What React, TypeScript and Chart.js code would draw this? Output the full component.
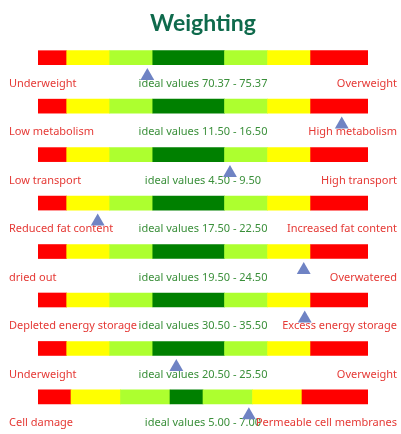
import { useEffect, useRef } from 'react';
import { Chart, registerables } from 'chart.js';

Chart.register(...registerables);

const leftLabels = [
  'Underweight',
  'Low metabolism',
  'Low transport',
  'Reduced fat content',
  'dried out',
  'Depleted energy storage',
  'Underweight',
  'Cell damage',
];
const rightLabels = [
  'Overweight',
  'High metabolism',
  'High transport',
  'Increased fat content',
  'Overwatered',
  'Excess energy storage',
  'Overweight',
  'Permeable cell membranes',
];
const idealLow = [70.37, 11.5, 4.5, 17.5, 19.5, 30.5, 20.5, 5.0];
const idealHigh = [75.37, 16.5, 9.5, 22.5, 24.5, 35.5, 25.5, 7.0];
const markerValues = [69.99, 24.67, 9.88, 13.66, 30.02, 41.09, 22.14, 9.78];
// zone widths (in value units) below and above the ideal range: red, yellow, light green
const zonesBelow = [2, 3, 3];
const zonesAbove = [3, 3, 4];
const zoneColors = ['#ff0000', '#ffff00', '#adff2f', '#008000', '#adff2f', '#ffff00', '#ff0000'];

const LABEL_FONT = '11px "Noto Sans"';

function rowSegments(i: number): [number, number][] {
  const bounds: number[] = [];
  let start = idealLow[i] - zonesBelow.reduce((a, b) => a + b, 0);
  bounds.push(start);
  for (const w of zonesBelow) {
    start += w;
    bounds.push(start);
  }
  let v = idealHigh[i];
  bounds[bounds.length - 1] = idealLow[i];
  bounds.push(v);
  for (const w of zonesAbove) {
    v += w;
    bounds.push(v);
  }
  const segs: [number, number][] = [];
  for (let k = 0; k < bounds.length - 1; k++) segs.push([bounds[k], bounds[k + 1]]);
  return segs;
}

const labelPlugin = {
  id: 'rowLabels',
  beforeDatasetsDraw(chart: any) {
    const { ctx, chartArea, scales } = chart;
    const yScale = scales.y;
    ctx.save();
    ctx.font = LABEL_FONT;
    ctx.textBaseline = 'middle';
    for (let i = 0; i < leftLabels.length; i++) {
      const y = yScale.getPixelForValue(i + 0.54);
      ctx.fillStyle = '#e53935';
      ctx.textAlign = 'left';
      ctx.fillText(leftLabels[i], chartArea.left - 29, y);
      ctx.fillStyle = '#3a8f3a';
      ctx.textAlign = 'center';
      ctx.fillText(
        `ideal values ${idealLow[i].toFixed(2)} - ${idealHigh[i].toFixed(2)}`,
        (chartArea.left + chartArea.right) / 2,
        y
      );
      ctx.fillStyle = '#e53935';
      ctx.textAlign = 'right';
      ctx.fillText(rightLabels[i], chartArea.right + 29, y);
    }
    ctx.restore();
  },
};

export default function App() {
  const canvasRef = useRef<HTMLCanvasElement | null>(null);

  useEffect(() => {
    if (!canvasRef.current) return;
    const datasets: any[] = [];
    const scales: any = {
      y: {
        type: 'linear',
        reverse: true,
        min: -0.2,
        max: 7.6,
        display: false,
        offset: false,
        beginAtZero: false,
        grace: 0,
      },
    };
    for (let i = 0; i < leftLabels.length; i++) {
      const segs = rowSegments(i);
      scales['x' + i] = {
        type: 'linear',
        axis: 'x',
        display: false,
        offset: false,
        beginAtZero: false,
        grace: 0,
        min: segs[0][0],
        max: segs[segs.length - 1][1],
      };
      datasets.push({
        type: 'bar',
        indexAxis: 'y',
        xAxisID: 'x' + i,
        yAxisID: 'y',
        data: segs.map((s) => ({ x: s, y: i })),
        backgroundColor: zoneColors,
        borderWidth: 0,
        borderSkipped: false,
        barThickness: 14,
        grouped: false,
      });
    }
    for (let i = 0; i < leftLabels.length; i++) {
      datasets.push({
        type: 'scatter',
        xAxisID: 'x' + i,
        yAxisID: 'y',
        data: [{ x: markerValues[i], y: i + 0.38 }],
        pointStyle: 'triangle',
        pointRadius: 8,
        pointHoverRadius: 8,
        backgroundColor: '#6f83c4',
        borderWidth: 0,
      });
    }
    const chart = new Chart(canvasRef.current, {
      type: 'scatter',
      data: { datasets },
      options: {
        responsive: false,
        animation: false,
        layout: { padding: { left: 38, right: 33, top: 0, bottom: 3 } },
        scales,
        plugins: {
          legend: { display: false },
          tooltip: { enabled: false },
          title: {
            display: true,
            text: 'Weighting',
            color: '#0f6a4c',
            font: { family: 'Lato', size: 23, weight: 'bold' },
            padding: { top: 10, bottom: 10.4 },
          },
        },
      },
      plugins: [labelPlugin],
    } as any);
    return () => chart.destroy();
  }, []);

  return (
    <div style={{ position: 'absolute', left: 0, top: 0, width: 401, height: 434, background: '#fff' }}>
      <canvas ref={canvasRef} width={401} height={434} />
    </div>
  );
}
